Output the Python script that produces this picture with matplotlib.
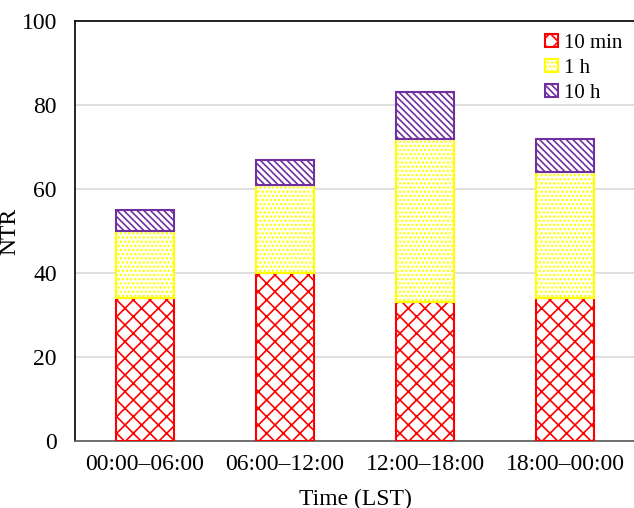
import matplotlib
matplotlib.use("Agg")
import matplotlib.pyplot as plt
import numpy as np

plt.rcParams["font.family"] = ["Liberation Serif", "DejaVu Serif"]
plt.rcParams["hatch.linewidth"] = 1.2

periods = ["00:00\u201306:00", "06:00\u201312:00", "12:00\u201318:00", "18:00\u201300:00"]
ntr_10min = [34, 40, 33, 34]
ntr_1h = [16, 21, 39, 30]
ntr_10h = [5, 6, 11, 8]

fig = plt.figure(figsize=(6.34, 5.08), dpi=100)
ax = fig.add_axes([75 / 634, 67 / 508, 560 / 634, 420 / 508])

x = np.arange(len(periods))
w = 0.41
b1 = np.array(ntr_10min)
b2 = b1 + np.array(ntr_1h)

ax.bar(x, ntr_10min, w, facecolor="white", edgecolor="red", hatch="xx",
       linewidth=1.5, label="10 min", zorder=3)
ax.bar(x, ntr_1h, w, bottom=b1, facecolor="white", edgecolor="#ffff00",
       hatch="....", linewidth=1.5, label="1 h", zorder=3)
ax.bar(x, ntr_10h, w, bottom=b2, facecolor="white", edgecolor="#7030a0",
       hatch="\\\\\\\\\\", linewidth=1.5, label="10 h", zorder=3)

ax.set_xlim(-0.5, 3.5)
ax.set_ylim(0, 100)
ax.set_yticks([0, 20, 40, 60, 80, 100])
ax.set_xticks(x)
ax.set_xticklabels(periods)
ax.tick_params(axis="x", length=0, labelsize=17, pad=9)
ax.tick_params(axis="y", length=0, labelsize=17, pad=13)
ax.yaxis.grid(True, color="#d9d9d9", linewidth=1.2, zorder=0)
ax.set_axisbelow(True)

for s in ["left", "top", "right"]:
    ax.spines[s].set_color("black")
    ax.spines[s].set_linewidth(1.2)
ax.spines["bottom"].set_color("#595959")
ax.spines["bottom"].set_linewidth(1.2)

ax.set_ylabel("NTR", fontsize=17)
ax.yaxis.set_label_coords(-0.098, 0.5)
ax.set_xlabel("Time (LST)", fontsize=17, labelpad=10)

ax.legend(loc="upper right", frameon=False, fontsize=15,
          handlelength=0.6, handleheight=0.6, handletextpad=0.3,
          labelspacing=0.3, borderaxespad=0.2, bbox_to_anchor=(1.0, 1.0))

fig.savefig("out.png", dpi=100)
